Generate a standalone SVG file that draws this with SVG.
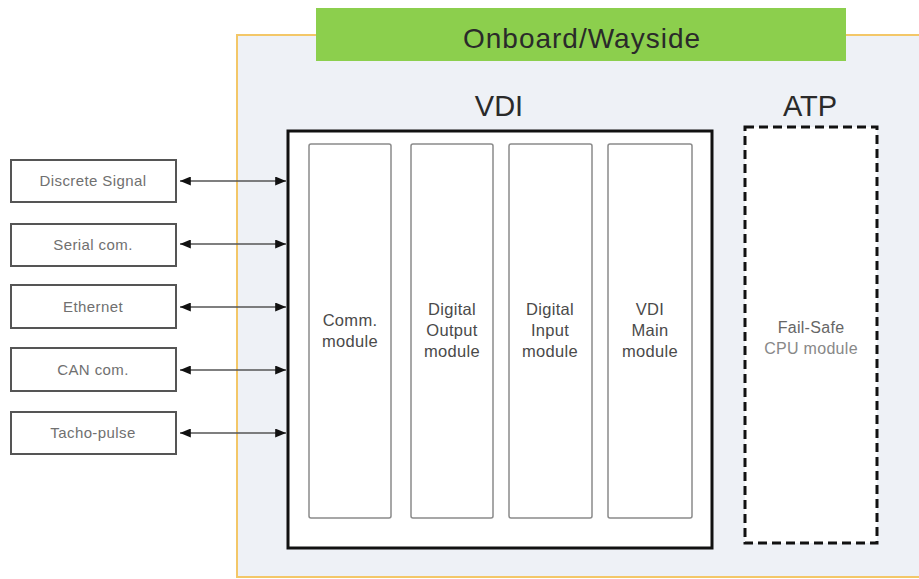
<svg xmlns="http://www.w3.org/2000/svg" width="919" height="579" viewBox="0 0 919 579">
  <defs>
    <marker id="arrowEnd" viewBox="0 0 12 10" refX="12" refY="5" markerWidth="12" markerHeight="9" markerUnits="userSpaceOnUse" orient="auto">
      <path d="M0,0 L12,5 L0,10 z" fill="#111"/>
    </marker>
    <marker id="arrowStart" viewBox="0 0 12 10" refX="0" refY="5" markerWidth="12" markerHeight="9" markerUnits="userSpaceOnUse" orient="auto">
      <path d="M12,0 L0,5 L12,10 z" fill="#111"/>
    </marker>
  </defs>
  <style>
    .title { font-family: "Liberation Sans", Arial, sans-serif; fill: #2a2a2a; text-anchor: middle; }
    .io rect { fill: #fff; stroke: #555; stroke-width: 2; }
    .io text { font-family: "Liberation Sans", Arial, sans-serif; font-size: 15px; letter-spacing: 0.4px; fill: #707070; text-anchor: middle; }
    .mod rect { fill: #fff; stroke: #8a8a8a; stroke-width: 1.5; }
    .mod text { font-family: "Liberation Sans", Arial, sans-serif; font-size: 16.5px; letter-spacing: 0.3px; fill: #4a4a4a; text-anchor: middle; }
    .link { stroke: #555; stroke-width: 1.5; fill: none; marker-start: url(#arrowStart); marker-end: url(#arrowEnd); }
  </style>

  <rect width="919" height="579" fill="#fff"/>

  <!-- Onboard/Wayside enclosure -->
  <g id="enclosure">
    <rect x="237" y="35" width="690" height="542" fill="#eef1f6" stroke="#f3c768" stroke-width="2"/>
    <rect x="316" y="8" width="530" height="53" fill="#8ccf4d"/>
    <text class="title" x="582" y="48" font-size="28" letter-spacing="1">Onboard/Wayside</text>
  </g>

  <!-- VDI unit -->
  <g id="vdi">
    <text class="title" x="499" y="116" font-size="29">VDI</text>
    <rect x="288" y="131" width="424" height="417" fill="#fff" stroke="#111" stroke-width="3"/>
  </g>

  <g id="comm-module" class="mod">
    <rect x="309" y="144" width="82" height="374" rx="2"/>
    <text x="350" y="326">Comm.</text>
    <text x="350" y="347">module</text>
  </g>
  <g id="digital-output-module" class="mod">
    <rect x="411" y="144" width="82" height="374" rx="2"/>
    <text x="452" y="315">Digital</text>
    <text x="452" y="336">Output</text>
    <text x="452" y="357">module</text>
  </g>
  <g id="digital-input-module" class="mod">
    <rect x="509" y="144" width="83" height="374" rx="2"/>
    <text x="550" y="315">Digital</text>
    <text x="550" y="336">Input</text>
    <text x="550" y="357">module</text>
  </g>
  <g id="vdi-main-module" class="mod">
    <rect x="608" y="144" width="84" height="374" rx="2"/>
    <text x="650" y="315">VDI</text>
    <text x="650" y="336">Main</text>
    <text x="650" y="357">module</text>
  </g>

  <!-- ATP unit -->
  <g id="atp">
    <text class="title" x="810" y="116" font-size="29">ATP</text>
    <rect x="745" y="127" width="132" height="416" fill="#fff" stroke="#111" stroke-width="3" stroke-dasharray="9,5"/>
    <text x="811" y="333" font-family="Liberation Sans, Arial, sans-serif" font-size="16" letter-spacing="0.3" fill="#666" text-anchor="middle">Fail-Safe</text>
    <text x="811" y="354" font-family="Liberation Sans, Arial, sans-serif" font-size="16" letter-spacing="0.3" fill="#888" text-anchor="middle">CPU module</text>
  </g>

  <!-- external interfaces -->
  <g id="discrete-signal" class="io">
    <rect x="11" y="160" width="165" height="42"/>
    <text x="93" y="186">Discrete Signal</text>
  </g>
  <g id="serial-com" class="io">
    <rect x="11" y="224" width="165" height="42"/>
    <text x="93" y="250">Serial com.</text>
  </g>
  <g id="ethernet" class="io">
    <rect x="11" y="285" width="165" height="43"/>
    <text x="93" y="312">Ethernet</text>
  </g>
  <g id="can-com" class="io">
    <rect x="11" y="348" width="165" height="43"/>
    <text x="93" y="375">CAN com.</text>
  </g>
  <g id="tacho-pulse" class="io">
    <rect x="11" y="412" width="165" height="42"/>
    <text x="93" y="438">Tacho-pulse</text>
  </g>

  <!-- connectors -->
  <g id="connectors">
    <line class="link" x1="180" y1="181" x2="286" y2="181"/>
    <line class="link" x1="180" y1="244" x2="286" y2="244"/>
    <line class="link" x1="180" y1="307" x2="286" y2="307"/>
    <line class="link" x1="180" y1="370" x2="286" y2="370"/>
    <line class="link" x1="180" y1="433" x2="286" y2="433"/>
  </g>
</svg>
